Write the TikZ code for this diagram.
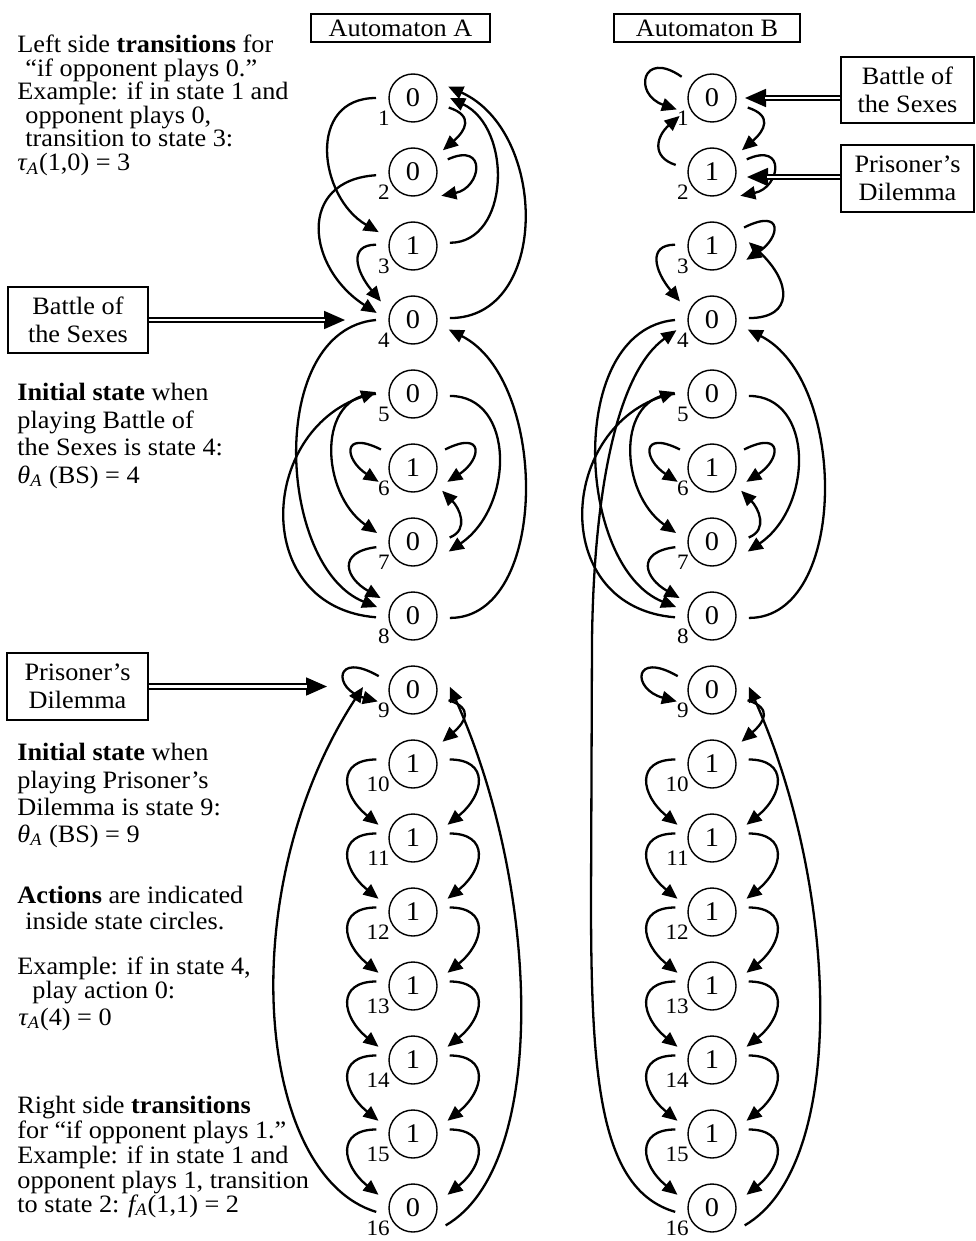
\documentclass[tikz,border=0pt]{standalone}
\usepackage{fontspec}
\setmainfont{Liberation Serif}[FakeStretch=1.05]
\usetikzlibrary{arrows.meta, calc}

\begin{document}
\begin{tikzpicture}[x=0.5pt, y=0.5pt, >={Triangle[length=7.5pt, width=6.5pt]},
    state/.style={circle, draw, line width=0.7pt, minimum size=24pt, inner sep=0pt, outer sep=6.5pt, font=\fontsize{13.5}{13.5}\selectfont},
    num/.style={anchor=east, inner sep=0pt, font=\fontsize{11}{11}\selectfont},
    tr/.style={->, line width=1.15pt},
    box/.style={draw, line width=0.7pt, align=center, inner sep=0pt, font=\fontsize{12.5}{14}\selectfont},
    txt/.style={anchor=base west, inner sep=0pt, font=\fontsize{12.5}{14}\selectfont},
    dbl/.style={double, double distance=1.3pt, line width=0.9pt, shorten >=10pt},
    dbltip/.style={-{Triangle[length=10.5pt, width=9pt]}, line width=0.9pt}]

    \useasboundingbox (0,0) rectangle (975,-1241);

    % Tiêu đề
    \node[box, minimum width=89.5pt, minimum height=14pt] (hA) at (400.5,-28) {Automaton A};
    \node[box, minimum width=93pt, minimum height=14pt] (hB) at (707,-28) {Automaton B};

    % Trạng thái: a = automaton A, b = automaton B
    \foreach \i/\p/\q in {1/0/0, 2/0/1, 3/1/1, 4/0/0, 5/0/0, 6/1/1, 7/0/0, 8/0/0,
        9/0/0, 10/1/1, 11/1/1, 12/1/1, 13/1/1, 14/1/1, 15/1/1, 16/0/0} {
        \node[state] (a\i) at (413,{-98-74*(\i-1)}) {\p};
        \node[num] (na\i) at (390,{-118-74*(\i-1)}) {\i};
        \node[state] (b\i) at (712,{-98-74*(\i-1)}) {\q};
        \node[num] (nb\i) at (689,{-118-74*(\i-1)}) {\i};
    }

    % Chuyển trạng thái chung cho A và B
    \foreach \c in {a,b} {
        \draw[tr] (\c1.-15) .. controls +(25,-8) and +(23,20) .. (\c2.36);
        \draw[tr] (\c2.20) .. controls +(40,18) and +(40,8) .. (\c2.-40);
        \draw[tr] (\c3.178) .. controls +(-28,0) and +(-25,30) .. (\c4.150);
        \draw[tr] (\c4.180) .. controls +(-110,-10) and +(-100,40) .. (\c8.166);
        \draw[tr] (\c8.182) .. controls +(-125,10) and +(-118,-40) .. (\c5.177);
        \draw[tr] (\c5.180) .. controls +(-60,0) and +(-57,40) .. (\c7.166);
        \draw[tr] (\c6.150) .. controls +(-40,20) and +(-34,22) .. (\c6.202);
        \draw[tr] (\c6.30) .. controls +(40,20) and +(34,22) .. (\c6.-22);
        \draw[tr] (\c7.188) .. controls +(-40,-5) and +(-35,20) .. (\c8.151);
        \draw[tr] (\c5.-3) .. controls +(65,0) and +(66,45) .. (\c7.-15);
        \draw[tr] (\c7.7) .. controls +(20,8) and +(17,-17) .. (\c6.-38);
        \draw[tr] (\c8.-3) .. controls +(100,0) and +(100,-50) .. (\c4.-15);
        \draw[tr] (\c9.158) .. controls +(-45,26) and +(-45,12) .. (\c9.198);
        \draw[tr] (\c9.-16) .. controls +(25,-8) and +(23,20) .. (\c10.37);
        \foreach \i [evaluate=\i as \j using int(\i+1)] in {10,...,15} {
            \draw[tr] (\c\i.173) .. controls +(-40,0) and +(-37,30) .. (\c\j.159);
            \draw[tr] (\c\i.7) .. controls +(40,0) and +(37,30) .. (\c\j.21);
        }
        \draw[tr] (\c16.-28) .. controls +(104,60) and +(90,-200) .. (\c9.5);
    }

    % Riêng automaton A
    \draw[tr] (a1.180) .. controls +(-70,0) and +(-60,35) .. (a3.158);
    \draw[tr] (a2.185) .. controls +(-80,-5) and +(-70,45) .. (a4.169);
    \draw[tr] (a3.5) .. controls +(60,0) and +(63,-30) .. (a1.0);
    \draw[tr] (a4.3) .. controls +(100,0) and +(100,-45) .. (a1.18);
    \draw[tr] (a16.186) .. controls +(-120,36) and +(-132,-203) .. ($(a9)+(-50,3)$);

    % Riêng automaton B
    \draw[tr] (b1.145) .. controls +(-40,28) and +(-44,15) .. (b1.198);
    \draw[tr] (b2.169) .. controls +(-25,8) and +(-23,-20) .. (b1.209);
    \draw[tr] (b3.30) .. controls +(40,20) and +(34,22) .. (b3.-22);
    \draw[tr] (b4.3) .. controls +(45,0) and +(43,-40) .. (b3.6);
    \draw[tr] (b16.186) .. controls (600,-1190) and (591,-1080) .. (591,-900)
        -- (592,-640) .. controls (594,-480) and (620,-370) .. (b4.196);

    % Trò chơi và trạng thái ban đầu
    \node[box, minimum width=70pt, minimum height=33pt] (bsA) at (78,-320) {Battle of\\the Sexes};
    \node[box, minimum width=70.5pt, minimum height=33.5pt] (pdA) at (77.5,-686.5) {Prisoner’s\\Dilemma};
    \node[box, minimum width=66.5pt, minimum height=33pt] (bsB) at (907.5,-90) {Battle of\\the Sexes};
    \node[box, minimum width=66.5pt, minimum height=33.5pt] (pdB) at (907.5,-178.5) {Prisoner’s\\Dilemma};
    \coordinate (pA4) at (345,-320);
    \coordinate (pA9) at (327,-686.5);
    \coordinate (pB1) at (745,-98);
    \coordinate (pB2) at (747,-177);
    \foreach \s/\e in {bsA.east/pA4, pdA.east/pA9, bsB.west |- pB1/pB1, pdB.west |- pB2/pB2} {
        \draw[dbltip] (\s) -- (\e);
        \draw[dbl] (\s) -- (\e);
    }

    % Chú thích bên trái
    \foreach \y/\x/\t [count=\k] in {
        53/17/{Left side \textbf{transitions} for},
        76.5/25/{“if opponent plays 0.”},
        100/17/{Example: if in state 1 and},
        123.5/25/{opponent plays 0,},
        147/25/{transition to state 3:},
        170.5/17/{{\itshape τ}\textsubscript{\itshape A}(1,0) = 3},
        400/17/{\textbf{Initial state} when},
        428/17/{playing Battle of},
        455/17/{the Sexes is state 4:},
        483/17/{{\itshape θ}\textsubscript{\itshape A} (BS) = 4},
        760/17/{\textbf{Initial state} when},
        788/17/{playing Prisoner’s},
        815/17/{Dilemma is state 9:},
        842/17/{{\itshape θ}\textsubscript{\itshape A} (BS) = 9},
        903/17/{\textbf{Actions} are indicated},
        929/25/{inside state circles.},
        974/17/{Example: if in state 4,},
        998/32/{play action 0:},
        1025/18/{{\itshape τ}\textsubscript{\itshape A}(4) = 0},
        1113/17/{Right side \textbf{transitions}},
        1138/17/{for “if opponent plays 1.”},
        1163/17/{Example: if in state 1 and},
        1188/17/{opponent plays 1, transition},
        1212/17/{to state 2: {\itshape f}\textsubscript{\itshape A}(1,1) = 2}}
        \node[txt] (l\k) at (\x,-\y) {\t};

\end{tikzpicture}
\end{document}
